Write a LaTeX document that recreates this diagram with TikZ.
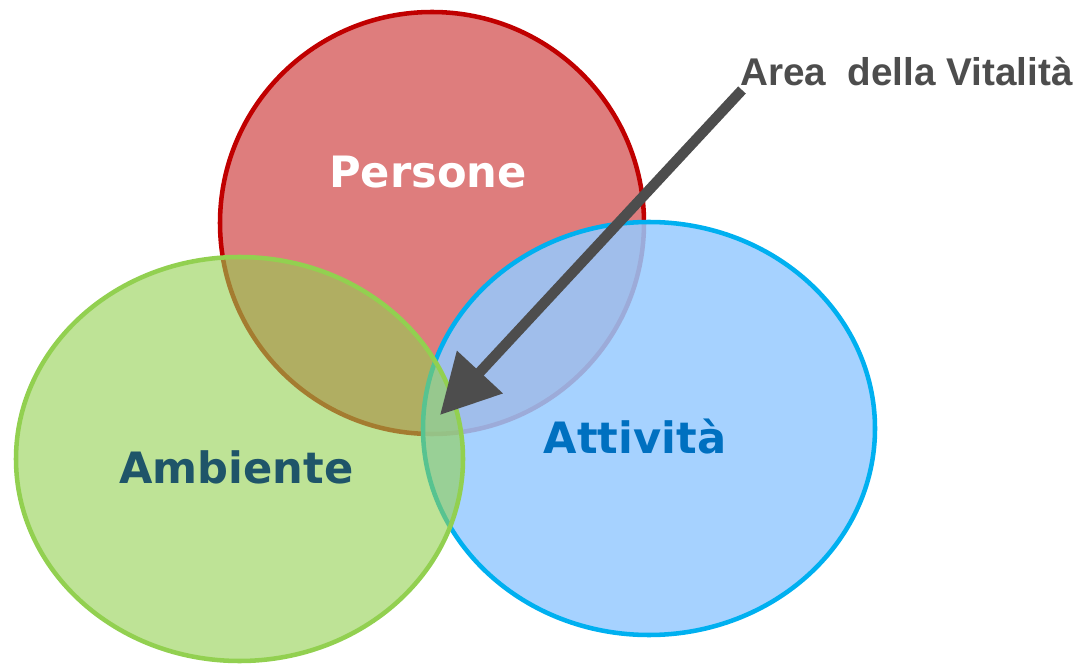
\documentclass[tikz,border=0pt]{standalone}
\usepackage{fontspec}
\usepackage{xcolor}
\usetikzlibrary{arrows.meta}
\newfontfamily\circlefont{DejaVu Sans}
\newfontfamily\calloutfont{Liberation Sans}

\definecolor{persRed}{RGB}{192,0,0}
\definecolor{persFill}{RGB}{222,125,125}
\definecolor{ambGreen}{RGB}{146,208,80}
\definecolor{ambText}{RGB}{31,85,105}
\definecolor{attBlue}{RGB}{0,176,240}
\definecolor{attFill}{RGB}{150,202,255}
\definecolor{attText}{RGB}{0,112,192}
\definecolor{arrowGray}{RGB}{77,77,77}

\begin{document}
\begin{tikzpicture}[x=0.75pt,y=0.75pt,yscale=-1,xscale=1,
  ring/.style={line width=3.4pt},
  circlelabel/.style={anchor=base,inner sep=0.75pt,font=\circlefont\bfseries\fontsize{32.4}{38}\selectfont}]
\path (0,0) rectangle (1081,666); %set diagram left start at 0, and has height of 666

%Shape: Ellipse [Persone]
\draw [ring,draw=persRed,fill=persFill] (432,223) ellipse (212 and 211);
%Shape: Ellipse [Attivita]
\draw [ring,draw=attBlue,fill=attFill,fill opacity=0.85] (649,428.5) ellipse (226 and 206.5);
%Shape: Ellipse [Ambiente]
\draw [ring,draw=ambGreen,fill=ambGreen,fill opacity=0.6] (239.5,459) ellipse (223.5 and 202);

% Text Node
\node (persone) [circlelabel,text=white] at (428,188) {Persone};
% Text Node
\node (ambiente) [circlelabel,text=ambText] at (236.5,483) {Ambiente};
% Text Node
\node (attivita) [circlelabel,text=attText] at (635,453) {Attività};
% Text Node
\node (area) [anchor=base west,inner sep=0pt,text=arrowGray,font=\calloutfont\bfseries\fontsize{29}{34}\selectfont] at (740,86) {Area\ \ della Vitalità};

%Straight Lines [arrow to the shared area]
\coordinate (tail) at (742,90);
\coordinate (tip) at (440,415);
\draw [draw=arrowGray,line width=7.8pt,-{Triangle[length=44pt,width=45pt]}] (tail) -- (tip);

\end{tikzpicture}
\end{document}
